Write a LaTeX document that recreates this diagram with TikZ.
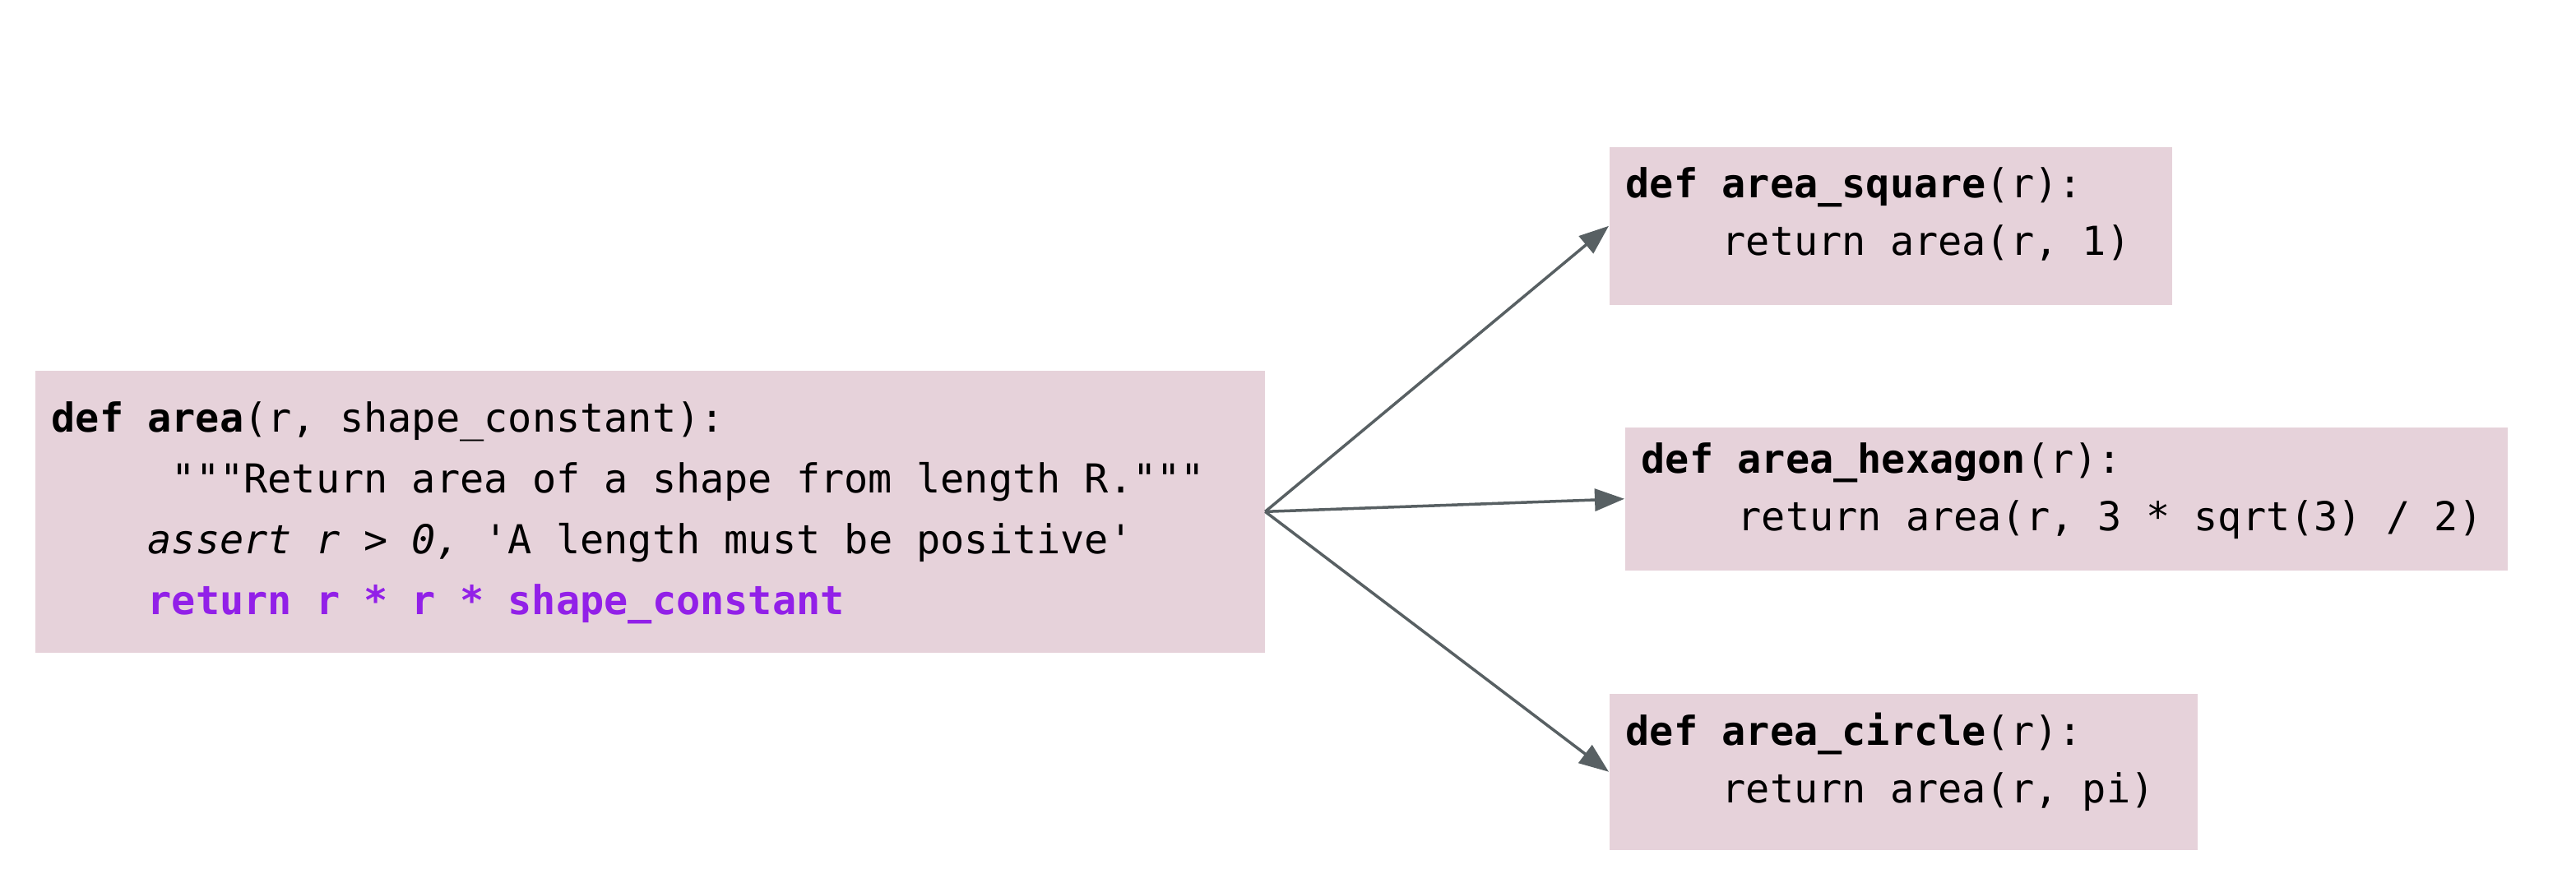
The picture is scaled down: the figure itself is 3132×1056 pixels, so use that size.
\documentclass[tikz,border=0pt]{standalone}
\usepackage{fontspec}
\setmonofont{DejaVu Sans Mono}
\usepackage{tikz}
\usetikzlibrary{arrows.meta}
\definecolor{boxpink}{RGB}{230,210,218}
\definecolor{arrowgray}{RGB}{88,96,99}
\definecolor{codepurple}{RGB}{146,32,232}
\newcommand{\codetop}[1]{\rule{0pt}{#1}}
\newcommand{\codebot}[1]{\rule[-#1]{0pt}{#1}}
\newcommand{\codefont}[1]{\ttfamily\fontsize{0.485cm}{#1}\selectfont}
\newcommand{\monospaces}{\spaceskip=\fontcharwd\font`0\relax\xspaceskip=\spaceskip}

\begin{document}
\begin{tikzpicture}[x=0.01cm,y=-0.01cm,
	codebox/.style={fill=boxpink,anchor=north west,align=left,inner xsep=0.2cm,inner ysep=0pt,font=\codefont{0.70cm},execute at begin node=\monospaces},
	link/.style={->,>={Triangle[length=0.36cm,width=0.27cm]},draw=arrowgray,fill=arrowgray,line width=0.035cm}]
		\useasboundingbox (0,0) rectangle (3132,1056);
		\node[codebox,text width=14.54cm,font=\codefont{0.74cm}] (area) at (42,450) {\codetop{0.75cm}\textbf{def area}(r, shape\_constant):\\
			\phantom{00000}"""Return area of a shape from length R."""\\
			\phantom{0000}\textit{assert r > 0,} 'A length must be positive'\\
			\phantom{0000}\textbf{\color{codepurple}return r * r * shape\_constant}\codebot{0.46cm}};
		\node[codebox,text width=6.44cm] (square) at (1956,178) {\codetop{0.62cm}\textbf{def area\_square}(r):\\
			\phantom{0000}return area(r, 1)\codebot{0.60cm}};
		\node[codebox,text width=10.33cm] (hexagon) at (1975,519) {\codetop{0.56cm}\textbf{def area\_hexagon}(r):\\
			\phantom{0000}return area(r, 3 * sqrt(3) / 2)\codebot{0.48cm}};
		\node[codebox,text width=6.75cm] (circle) at (1956,843) {\codetop{0.63cm}\textbf{def area\_circle}(r):\\
			\phantom{0000}return area(r, pi)\codebot{0.57cm}};
		\draw[link] (area.east) -- (square.west);
		\draw[link] (area.east) -- (hexagon.west);
		\draw[link] (area.east) -- (circle.west);
\end{tikzpicture}
\end{document}
